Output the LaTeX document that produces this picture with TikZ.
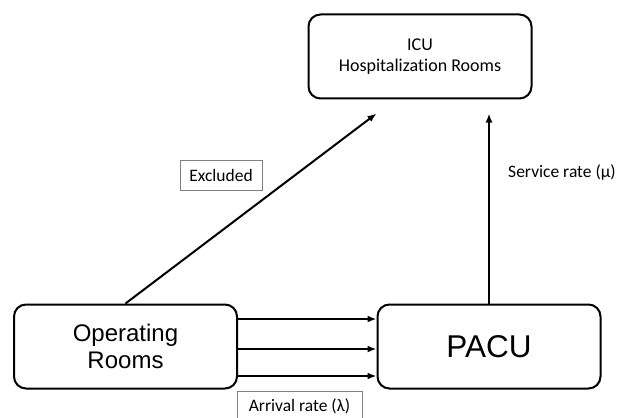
\documentclass[tikz,border=0pt]{standalone}
\usepackage{fontspec}
\setmainfont{Carlito}[Ligatures=NoCommon]
\newfontfamily\arialfont{Liberation Sans}
\usetikzlibrary{arrows.meta}

\tikzset{
  room/.style={draw,line width=2pt,rounded corners=12pt,minimum width=223pt,minimum height=84pt,align=center},
  ratebox/.style={draw=gray,line width=1pt,minimum height=30pt,font=\fontsize{17.5}{20}\selectfont},
  ratetext/.style={font=\fontsize{17.5}{20}\selectfont},
  flow/.style={line width=2pt,-{Latex[length=9pt,width=7pt]}}
}

\begin{document}
\begin{tikzpicture}[x=1pt,y=-1pt]

      \useasboundingbox (0,0) rectangle (620,417);

      \node[room,font=\fontsize{18}{21}\selectfont] (icu) at (420,56.5) {ICU\\Hospitalization Rooms}; % top
      \node[room,font=\arialfont\fontsize{24}{27}\selectfont] (or) at (125.5,346.5) {Operating\\Rooms};
      \node[room,font=\arialfont\fontsize{31.5}{36}\selectfont] (pacu) at (489,346.5) {PACU};

      \foreach \dy in {27.5,-2.5,-29.5}
      \draw[flow] ([yshift=\dy pt]or.east) -- ([yshift=\dy pt]pacu.west); % arrivals

      \coordinate (icubot) at ([yshift=-14pt]icu.south);
      \draw[flow] (or.north) -- ([xshift=69pt,yshift=-14pt]icu.south west); % excluded
      \draw[flow] (pacu.north) -- (pacu.north |- icubot); % service

      \node[ratebox,minimum width=82pt] (excl) at (221,175) {Excluded};
      \node[ratetext] (serv) at (562,173) {Service rate (μ)};
      \node[ratebox,minimum width=125pt,minimum height=30pt] (arr) at (299.5,406) {Arrival rate (λ)};

    \end{tikzpicture}
\end{document}
